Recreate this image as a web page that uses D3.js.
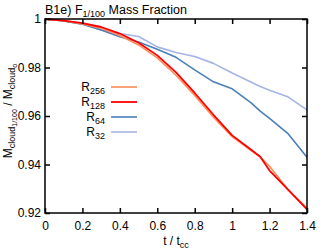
<!DOCTYPE html>
<html><head><meta charset="utf-8">
<script src="https://cdn.jsdelivr.net/npm/d3@7"></script>
<style>body{margin:0;background:#fff}svg{display:block}text{font-family:"Liberation Sans",Arial,sans-serif;fill:#000}</style>
</head><body><div id="c"></div>
<script>
const tValues = [0,0.1,0.2,0.3,0.4,0.5,0.6,0.7,0.8,0.9,1.0,1.1,1.15,1.2,1.3,1.4];
const r256 = [1.0,0.9993,0.998,0.9962,0.9932,0.9893,0.9840,0.9768,0.9685,0.9595,0.9515,0.9458,0.9432,0.9393,0.9295,0.922];
const r128 = [1.0,0.9993,0.9983,0.9967,0.9940,0.9902,0.9850,0.9780,0.9695,0.9605,0.9520,0.9462,0.9432,0.9375,0.9295,0.9215];
const r64  = [1.0,0.9992,0.9978,0.9955,0.9927,0.9905,0.9875,0.9842,0.9790,0.9741,0.9712,0.9655,0.9620,0.9590,0.9526,0.943];
const r32  = [1.0,0.9992,0.9980,0.9955,0.9940,0.9928,0.9885,0.9862,0.9845,0.9817,0.9777,0.9740,0.9722,0.9706,0.9678,0.9625];
const seriesNames = ["256","128","64","32"];
const seriesColors = ["#fc8d59","#ff0000","#4a7fb8","#a4b4e6"];
const xTicks = [0,0.2,0.4,0.6,0.8,1,1.2,1.4];
const yTicks = [0.92,0.94,0.96,0.98,1];

const W=320,H=250,m={l:45,r:13,t:19,b:37};
const svg=d3.select("#c").append("svg").attr("width",W).attr("height",H);
const x=d3.scaleLinear().domain([0,1.4]).range([m.l,W-m.r]);
const y=d3.scaleLinear().domain([0.92,1]).range([H-m.b,m.t]);

const all=[r256,r128,r64,r32];
const line=d3.line().x((d,i)=>x(tValues[i])).y(d=>y(d));
// draw back to front: R32, R64, R256, R128
[3,2,0,1].forEach(k=>{
  svg.append("path").datum(all[k]).attr("d",line).attr("fill","none")
    .attr("stroke",seriesColors[k]).attr("stroke-width",k===1?1.8:1.6).attr("stroke-linejoin","round");
});

const fmt=d=>d3.format("")(+d.toFixed(2));
svg.append("g").attr("transform",`translate(0,${H-m.b})`)
  .call(d3.axisBottom(x).tickValues(xTicks).tickSize(-5).tickPadding(8).tickFormat(fmt));
svg.append("g").attr("transform",`translate(0,${m.t})`)
  .call(d3.axisTop(x).tickValues(xTicks).tickSize(-5).tickFormat(""));
svg.append("g").attr("transform",`translate(${m.l},0)`)
  .call(d3.axisLeft(y).tickValues(yTicks).tickSize(-5).tickPadding(4).tickFormat(fmt));
svg.append("g").attr("transform",`translate(${W-m.r},0)`)
  .call(d3.axisRight(y).tickValues(yTicks).tickSize(-5).tickFormat(""));
svg.selectAll(".domain").remove();
svg.selectAll(".tick line").attr("stroke","#000").attr("stroke-width",1.5);
svg.selectAll(".tick text").attr("font-size",12).attr("font-family","Liberation Sans,Arial,sans-serif").attr("fill","#000");
svg.append("rect").attr("x",m.l).attr("y",m.t).attr("width",W-m.l-m.r).attr("height",H-m.t-m.b)
  .attr("fill","none").attr("stroke","#000").attr("stroke-width",1.5);

// title
const tt=svg.append("text").attr("x",45).attr("y",14).attr("font-size",12.5);
tt.append("tspan").text("B1e) F");
tt.append("tspan").attr("font-size",9).attr("dy",3).text("1/100");
tt.append("tspan").attr("dy",-3).text(" Mass Fraction");

// x label
const xl=svg.append("text").attr("x",x(0.7)).attr("y",245).attr("text-anchor","middle").attr("font-size",12);
xl.append("tspan").text("t / t");
xl.append("tspan").attr("font-size",9).attr("dy",3).text("cc");

// y label
const yl=svg.append("text").attr("transform","translate(12,111) rotate(-90)").attr("text-anchor","middle").attr("font-size",12);
yl.append("tspan").text("M");
yl.append("tspan").attr("font-size",9).attr("dy",3).text("cloud");
yl.append("tspan").attr("font-size",7).attr("dy",2).text("1/100");
yl.append("tspan").attr("font-size",12).attr("dy",-5).text(" / M");
yl.append("tspan").attr("font-size",9).attr("dy",3).text("cloud");
yl.append("tspan").attr("font-size",7).attr("dy",2).text("o");

// legend
seriesNames.forEach((n,i)=>{
  const yy=87+i*15;
  const t=svg.append("text").attr("x",105).attr("y",yy+4).attr("text-anchor","end").attr("font-size",12);
  t.append("tspan").text("R");
  t.append("tspan").attr("font-size",9).attr("dy",3).text(n);
  svg.append("line").attr("x1",111).attr("x2",137).attr("y1",yy).attr("y2",yy)
    .attr("stroke",seriesColors[i]).attr("stroke-width",i===1?1.8:1.6);
});
</script></body></html>
